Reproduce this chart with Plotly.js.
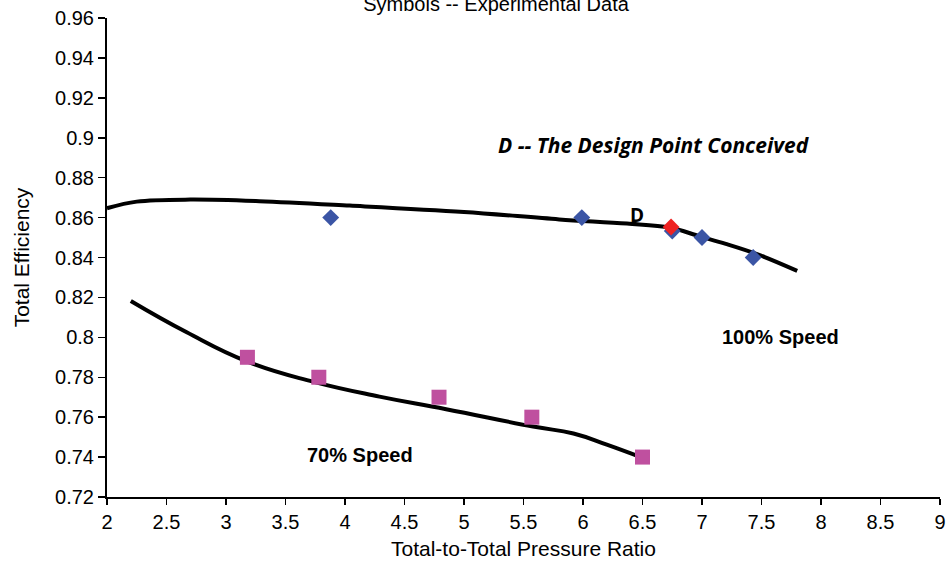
<!DOCTYPE html>
<html>
<head>
<meta charset="utf-8">
<script src="https://cdn.plot.ly/plotly-3.0.1.min.js"></script>
<style>html,body{margin:0;padding:0;background:#fff;}#chart{width:951px;height:571px;}</style>
</head>
<body>
<div id="chart"></div>
<script>
// 100% speed simulated curve
const curve100X = [2.0, 2.25, 2.7, 3.28, 4.04, 5.0, 5.8, 6.37, 6.73, 6.98, 7.2, 7.48, 7.8];
const curve100Y = [0.8647, 0.868, 0.869, 0.8682, 0.866, 0.8628, 0.8591, 0.857, 0.855, 0.8506, 0.8468, 0.8413, 0.8333];
// 70% speed simulated curve
const curve70X = [2.2, 2.67, 3.18, 3.73, 4.29, 4.85, 5.58, 5.92, 6.2, 6.5];
const curve70Y = [0.8182, 0.8025, 0.7878, 0.7778, 0.7703, 0.764, 0.7553, 0.7518, 0.7462, 0.7396];
// experimental data, 100% speed
const exp100X = [3.88, 5.99, 6.75, 7.0, 7.43];
const exp100Y = [0.86, 0.86, 0.8533, 0.85, 0.84];
// design point
const designX = [6.74];
const designY = [0.8553];
// experimental data, 70% speed
const exp70X = [3.18, 3.78, 4.79, 5.57, 6.5];
const exp70Y = [0.79, 0.78, 0.77, 0.76, 0.74];

const xTicks = [2, 2.5, 3, 3.5, 4, 4.5, 5, 5.5, 6, 6.5, 7, 7.5, 8, 8.5, 9];
const yTicks = [0.72, 0.74, 0.76, 0.78, 0.8, 0.82, 0.84, 0.86, 0.88, 0.9, 0.92, 0.94, 0.96];

const FONT = 'Arial, "Liberation Sans", sans-serif';

const traces = [
  {x: curve100X, y: curve100Y, mode: 'lines', line: {color: '#000', width: 4, shape: 'spline', smoothing: 1}, hoverinfo: 'skip'},
  {x: curve70X, y: curve70Y, mode: 'lines', line: {color: '#000', width: 4, shape: 'spline', smoothing: 1.3}, hoverinfo: 'skip'},
  {x: exp100X, y: exp100Y, mode: 'markers', marker: {symbol: 'diamond', size: 13, color: '#3b55a5'}},
  {x: designX, y: designY, mode: 'markers', marker: {symbol: 'diamond', size: 13, color: '#ee2222'}},
  {x: exp70X, y: exp70Y, mode: 'markers', marker: {symbol: 'square', size: 15, color: '#bf509f'}}
];

const layout = {
  width: 951, height: 571,
  margin: {l: 107, r: 11, t: 18, b: 74},
  paper_bgcolor: '#fff', plot_bgcolor: '#fff',
  showlegend: false,
  font: {family: FONT, color: '#000', size: 20},
  title: {text: 'Symbols -- Experimental Data', font: {family: FONT, size: 20, color: '#000'},
          x: 0.5216, xanchor: 'center', xref: 'container', y: 0.993, yanchor: 'middle', yref: 'container'},
  xaxis: {
    range: [2, 9], tickvals: xTicks, ticktext: xTicks.map(String),
    showgrid: false, zeroline: false,
    showline: true, linecolor: '#000', linewidth: 2,
    ticks: 'outside', ticklen: 6, tickwidth: 1.5, tickcolor: '#000',
    tickfont: {family: FONT, size: 20, color: '#000'},
    title: {text: 'Total-to-Total Pressure Ratio', font: {family: FONT, size: 21, color: '#000'}, standoff: 9}
  },
  yaxis: {
    range: [0.72, 0.96], tickvals: yTicks, ticktext: yTicks.map(String),
    showgrid: false, zeroline: false,
    showline: true, linecolor: '#000', linewidth: 2,
    ticks: 'outside', ticklen: 7, tickwidth: 1.5, tickcolor: '#000',
    tickfont: {family: FONT, size: 20, color: '#000'},
    title: {text: 'Total Efficiency', font: {family: FONT, size: 21, color: '#000'}, standoff: 20}
  },
  annotations: [
    {x: 6.6, y: 0.8964, xref: 'x', yref: 'y', text: '<b><i>D -- The Design Point Conceived</i></b>', showarrow: false,
     font: {family: '"Open Sans", sans-serif', size: 21, color: '#000'}, xanchor: 'center', yanchor: 'middle'},
    {x: 6.45, y: 0.8615, xref: 'x', yref: 'y', text: '<b>D</b>', showarrow: false,
     font: {family: '"Open Sans", sans-serif', size: 19, color: '#000'}, xanchor: 'center', yanchor: 'middle'},
    {x: 7.66, y: 0.8002, xref: 'x', yref: 'y', text: '<b>100% Speed</b>', showarrow: false,
     font: {family: FONT, size: 20, color: '#000'}, xanchor: 'center', yanchor: 'middle'},
    {x: 4.13, y: 0.741, xref: 'x', yref: 'y', text: '<b>70% Speed</b>', showarrow: false,
     font: {family: FONT, size: 20, color: '#000'}, xanchor: 'center', yanchor: 'middle'}
  ]
};

Plotly.newPlot('chart', traces, layout, {displayModeBar: false, staticPlot: true});
</script>
</body>
</html>
